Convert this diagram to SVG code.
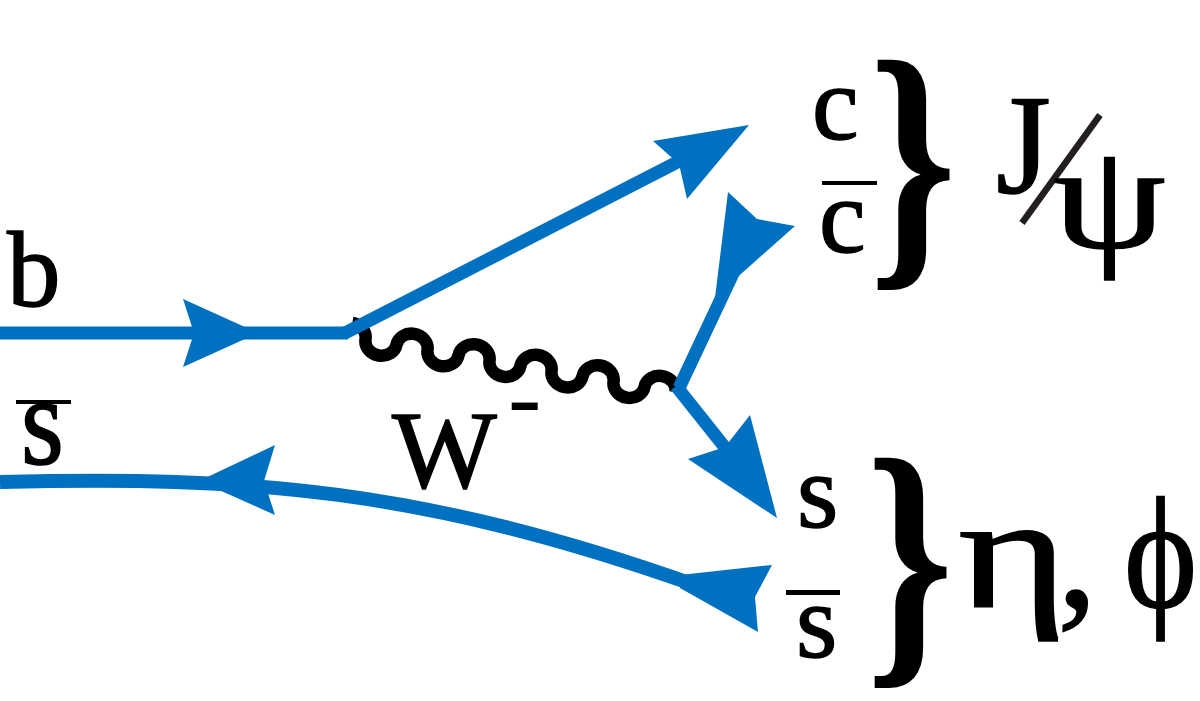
<svg xmlns="http://www.w3.org/2000/svg" width="1200" height="701" viewBox="0 0 1200 701">
<style>
.q{fill:none;stroke:#0070C0;stroke-width:13}
.ah{fill:#0070C0;stroke:none}
.w{fill:none;stroke:#000;stroke-width:12.5}
.t{font-family:"Liberation Serif","Times New Roman",serif;fill:#000;stroke:#000;stroke-width:1.5}
.br{font-family:"Liberation Serif","Times New Roman",serif;font-weight:bold;fill:#000}
.bar{fill:#000}
</style>
<rect width="1200" height="701" fill="#fff"/>
<g id="connectors">
<path class="w" transform="translate(350,336.8) rotate(9.65)" d="M0,-14 A15.73,14 0 0 1 15.73,0 A15.73,14 0 0 0 47.18,0 A15.73,14 0 0 1 78.63,0 A15.73,14 0 0 0 110.08,0 A15.73,14 0 0 1 141.53,0 A15.73,14 0 0 0 172.98,0 A15.73,14 0 0 1 204.43,0 A15.73,14 0 0 0 235.88,0 A15.73,14 0 0 1 267.33,0 A15.73,14 0 0 0 298.78,0 A15.73,14 0 0 1 330.23,0"/>
<path class="q" d="M0,333 L348,333"/>
<path class="q" d="M345,333 L695,153"/>
<path class="q" d="M679,388 L737,265"/>
<path class="q" d="M676,386 L727,450"/>
<path class="q" style="stroke-width:14" d="M0,482 C250,476 420,488 695,585"/>
<polygon class="ah" points="258,333 183,299 194,333 183,367"/>
<polygon class="ah" points="749,125 687,199 679,164 653,141"/>
<polygon class="ah" points="728,192 757,219 795,226 742,273 715,298"/>
<polygon class="ah" points="777,518 750,415 725,447 688,459"/>
<polygon class="ah" points="199,481 275,445 264,481 275,515"/>
<polygon class="ah" points="680,575 772,565 755,597 758,632 680,588"/>
</g>
<g id="label-b"><text class="t" x="7" y="306" font-size="107">b</text></g>
<g id="label-sbar-left"><rect class="bar" x="16" y="400" width="55" height="4"/><text class="t" transform="translate(21,464) scale(1,1.15)" font-size="110">s</text></g>
<g id="label-W"><text class="t" x="392" y="487" font-size="111">W</text><text class="t" x="508" y="430" font-size="100" style="stroke-width:0">-</text></g>
<g id="label-c"><text class="t" x="812" y="139" font-size="105">c</text></g>
<g id="label-cbar"><rect class="bar" x="822" y="181" width="55" height="4"/><text class="t" x="819" y="252" font-size="105">c</text></g>
<g id="brace-top"><text class="br" transform="translate(869,252.7) scale(0.8,1)" font-size="278">}</text></g>
<g id="label-jpsi"><text class="t" x="996" y="193" font-size="141">J</text><line x1="1100" y1="115" x2="1022" y2="223" stroke="#231f20" stroke-width="6.5"/><text class="t" transform="translate(1053,248) scale(1.2,1)" font-size="150">ψ</text></g>
<g id="label-s"><text class="t" x="797" y="527" font-size="106">s</text></g>
<g id="label-sbar"><rect class="bar" x="786" y="590" width="54" height="5"/><text class="t" x="796" y="657" font-size="106">s</text></g>
<g id="brace-bottom"><text class="br" transform="translate(866,650.7) scale(0.8,1)" font-size="278">}</text></g>
<g id="label-eta-phi"><text class="t" transform="translate(958,607) scale(1.3,1)" font-size="162">η</text><text class="t" x="1057" y="607" font-size="162">,</text><text class="t" transform="translate(1124,607) scale(0.88,1)" font-size="158">ϕ</text></g>
</svg>
